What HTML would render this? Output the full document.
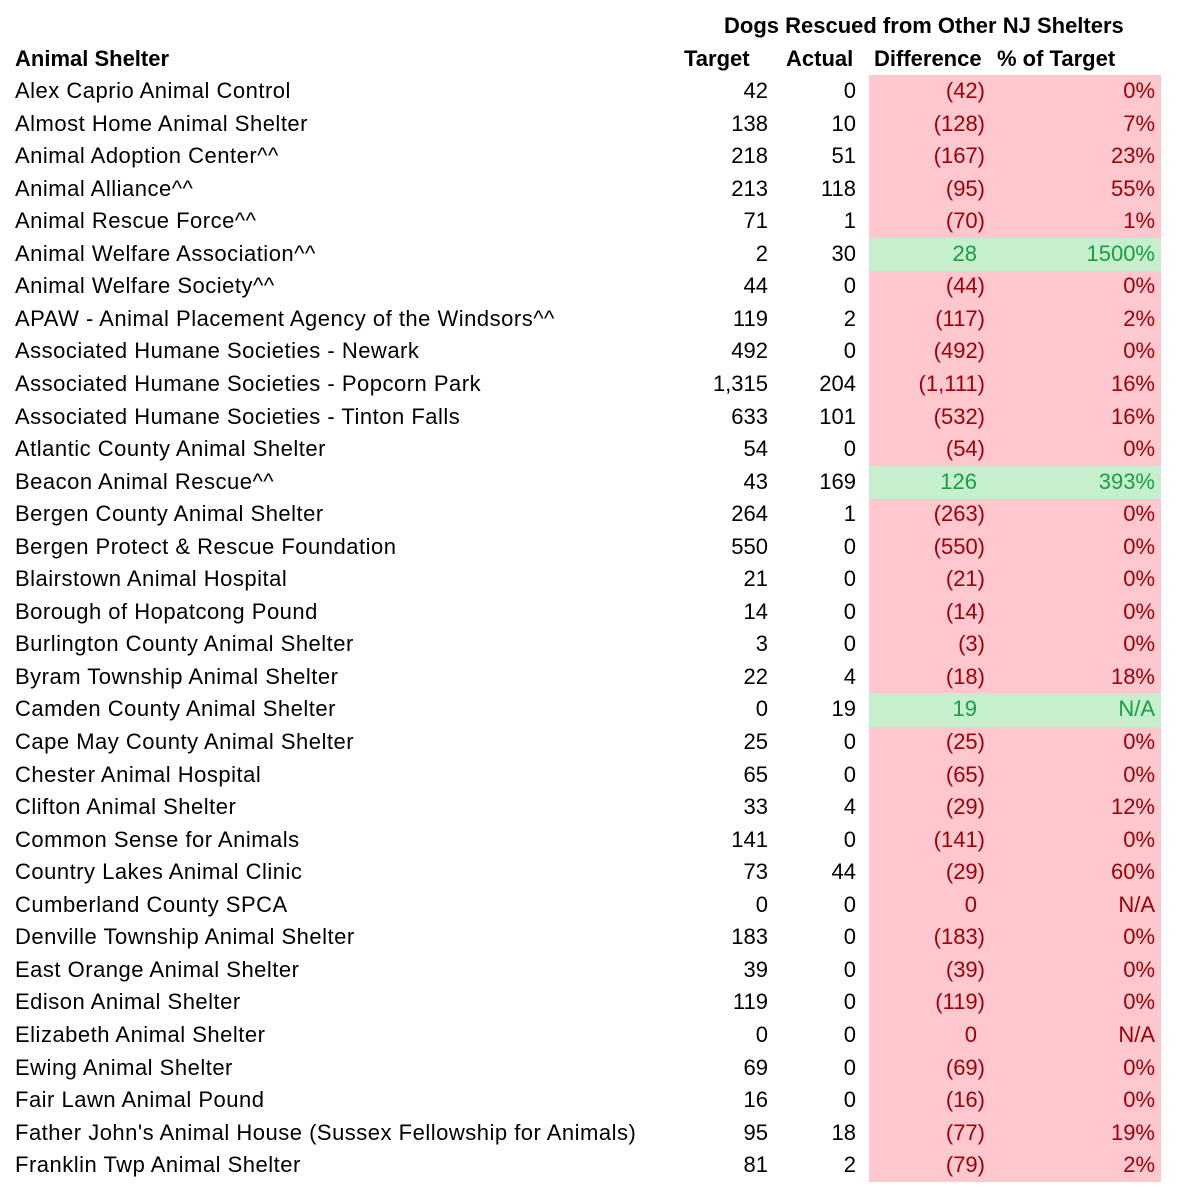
<!DOCTYPE html>
<html><head><meta charset="utf-8"><style>
body{margin:0;width:1179px;height:1200px;background:#fff;font-family:"Liberation Sans",sans-serif;color:#000;position:relative;overflow:hidden}
.h{position:absolute;font-weight:bold;font-size:22px;white-space:nowrap;line-height:30px}
.r{position:absolute;left:0;width:1179px;height:32.55px;font-size:22px;line-height:32.55px;white-space:nowrap}
.r span{position:absolute;top:0}
.n{left:15px;letter-spacing:0.5px}
.t{right:411px}
.a{right:323px}
.f{position:absolute;left:869px;width:292px;top:0;height:33.5px;background:#FFC7CE}
.g .f{background:#C6EFCE}
.d{right:194px;color:#9C0006}
.dp{right:202px;color:#9C0006}
.p{right:24px;color:#9C0006}
.g .d,.g .dp,.g .p{color:#1a9e45}
.g{z-index:1}
</style></head><body>
<div class="h" style="left:724px;top:11px">Dogs Rescued from Other NJ Shelters</div>
<div class="h" style="left:15px;top:44px">Animal Shelter</div>
<div class="h" style="left:684px;top:44px">Target</div>
<div class="h" style="left:786px;top:44px">Actual</div>
<div class="h" style="left:874px;top:44px">Difference</div>
<div class="h" style="left:997px;top:44px">% of Target</div>
<div class="r" style="top:75px"><div class="f"></div><span class="n">Alex Caprio Animal Control</span><span class="t">42</span><span class="a">0</span><span class="d">(42)</span><span class="p">0%</span></div>
<div class="r" style="top:107.55px"><div class="f"></div><span class="n">Almost Home Animal Shelter</span><span class="t">138</span><span class="a">10</span><span class="d">(128)</span><span class="p">7%</span></div>
<div class="r" style="top:140.1px"><div class="f"></div><span class="n">Animal Adoption Center^^</span><span class="t">218</span><span class="a">51</span><span class="d">(167)</span><span class="p">23%</span></div>
<div class="r" style="top:172.65px"><div class="f"></div><span class="n">Animal Alliance^^</span><span class="t">213</span><span class="a">118</span><span class="d">(95)</span><span class="p">55%</span></div>
<div class="r" style="top:205.2px"><div class="f"></div><span class="n">Animal Rescue Force^^</span><span class="t">71</span><span class="a">1</span><span class="d">(70)</span><span class="p">1%</span></div>
<div class="r g" style="top:237.75px"><div class="f"></div><span class="n">Animal Welfare Association^^</span><span class="t">2</span><span class="a">30</span><span class="dp">28</span><span class="p">1500%</span></div>
<div class="r" style="top:270.3px"><div class="f"></div><span class="n">Animal Welfare Society^^</span><span class="t">44</span><span class="a">0</span><span class="d">(44)</span><span class="p">0%</span></div>
<div class="r" style="top:302.85px"><div class="f"></div><span class="n">APAW - Animal Placement Agency of the Windsors^^</span><span class="t">119</span><span class="a">2</span><span class="d">(117)</span><span class="p">2%</span></div>
<div class="r" style="top:335.4px"><div class="f"></div><span class="n">Associated Humane Societies - Newark</span><span class="t">492</span><span class="a">0</span><span class="d">(492)</span><span class="p">0%</span></div>
<div class="r" style="top:367.95px"><div class="f"></div><span class="n">Associated Humane Societies - Popcorn Park</span><span class="t">1,315</span><span class="a">204</span><span class="d">(1,111)</span><span class="p">16%</span></div>
<div class="r" style="top:400.5px"><div class="f"></div><span class="n">Associated Humane Societies - Tinton Falls</span><span class="t">633</span><span class="a">101</span><span class="d">(532)</span><span class="p">16%</span></div>
<div class="r" style="top:433.05px"><div class="f"></div><span class="n">Atlantic County Animal Shelter</span><span class="t">54</span><span class="a">0</span><span class="d">(54)</span><span class="p">0%</span></div>
<div class="r g" style="top:465.6px"><div class="f"></div><span class="n">Beacon Animal Rescue^^</span><span class="t">43</span><span class="a">169</span><span class="dp">126</span><span class="p">393%</span></div>
<div class="r" style="top:498.15px"><div class="f"></div><span class="n">Bergen County Animal Shelter</span><span class="t">264</span><span class="a">1</span><span class="d">(263)</span><span class="p">0%</span></div>
<div class="r" style="top:530.7px"><div class="f"></div><span class="n">Bergen Protect &amp; Rescue Foundation</span><span class="t">550</span><span class="a">0</span><span class="d">(550)</span><span class="p">0%</span></div>
<div class="r" style="top:563.25px"><div class="f"></div><span class="n">Blairstown Animal Hospital</span><span class="t">21</span><span class="a">0</span><span class="d">(21)</span><span class="p">0%</span></div>
<div class="r" style="top:595.8px"><div class="f"></div><span class="n">Borough of Hopatcong Pound</span><span class="t">14</span><span class="a">0</span><span class="d">(14)</span><span class="p">0%</span></div>
<div class="r" style="top:628.35px"><div class="f"></div><span class="n">Burlington County Animal Shelter</span><span class="t">3</span><span class="a">0</span><span class="d">(3)</span><span class="p">0%</span></div>
<div class="r" style="top:660.9px"><div class="f"></div><span class="n">Byram Township Animal Shelter</span><span class="t">22</span><span class="a">4</span><span class="d">(18)</span><span class="p">18%</span></div>
<div class="r g" style="top:693.45px"><div class="f"></div><span class="n">Camden County Animal Shelter</span><span class="t">0</span><span class="a">19</span><span class="dp">19</span><span class="p">N/A</span></div>
<div class="r" style="top:726px"><div class="f"></div><span class="n">Cape May County Animal Shelter</span><span class="t">25</span><span class="a">0</span><span class="d">(25)</span><span class="p">0%</span></div>
<div class="r" style="top:758.55px"><div class="f"></div><span class="n">Chester Animal Hospital</span><span class="t">65</span><span class="a">0</span><span class="d">(65)</span><span class="p">0%</span></div>
<div class="r" style="top:791.1px"><div class="f"></div><span class="n">Clifton Animal Shelter</span><span class="t">33</span><span class="a">4</span><span class="d">(29)</span><span class="p">12%</span></div>
<div class="r" style="top:823.65px"><div class="f"></div><span class="n">Common Sense for Animals</span><span class="t">141</span><span class="a">0</span><span class="d">(141)</span><span class="p">0%</span></div>
<div class="r" style="top:856.2px"><div class="f"></div><span class="n">Country Lakes Animal Clinic</span><span class="t">73</span><span class="a">44</span><span class="d">(29)</span><span class="p">60%</span></div>
<div class="r" style="top:888.75px"><div class="f"></div><span class="n">Cumberland County SPCA</span><span class="t">0</span><span class="a">0</span><span class="dp">0</span><span class="p">N/A</span></div>
<div class="r" style="top:921.3px"><div class="f"></div><span class="n">Denville Township Animal Shelter</span><span class="t">183</span><span class="a">0</span><span class="d">(183)</span><span class="p">0%</span></div>
<div class="r" style="top:953.85px"><div class="f"></div><span class="n">East Orange Animal Shelter</span><span class="t">39</span><span class="a">0</span><span class="d">(39)</span><span class="p">0%</span></div>
<div class="r" style="top:986.4px"><div class="f"></div><span class="n">Edison Animal Shelter</span><span class="t">119</span><span class="a">0</span><span class="d">(119)</span><span class="p">0%</span></div>
<div class="r" style="top:1018.95px"><div class="f"></div><span class="n">Elizabeth Animal Shelter</span><span class="t">0</span><span class="a">0</span><span class="dp">0</span><span class="p">N/A</span></div>
<div class="r" style="top:1051.5px"><div class="f"></div><span class="n">Ewing Animal Shelter</span><span class="t">69</span><span class="a">0</span><span class="d">(69)</span><span class="p">0%</span></div>
<div class="r" style="top:1084.05px"><div class="f"></div><span class="n">Fair Lawn Animal Pound</span><span class="t">16</span><span class="a">0</span><span class="d">(16)</span><span class="p">0%</span></div>
<div class="r" style="top:1116.6px"><div class="f"></div><span class="n">Father John's Animal House (Sussex Fellowship for Animals)</span><span class="t">95</span><span class="a">18</span><span class="d">(77)</span><span class="p">19%</span></div>
<div class="r" style="top:1149.15px"><div class="f" style="height:32.55px"></div><span class="n">Franklin Twp Animal Shelter</span><span class="t">81</span><span class="a">2</span><span class="d">(79)</span><span class="p">2%</span></div>
</body></html>
